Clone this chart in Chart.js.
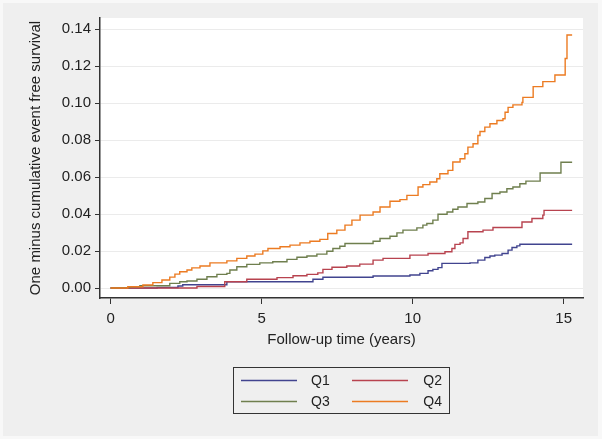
<!DOCTYPE html>
<html>
<head>
<meta charset="utf-8">
<script src="https://cdn.jsdelivr.net/npm/chart.js@4"></script>
<style>
  body { margin: 0; background: #f8f8f8; }
  #wrap { width: 602px; height: 439px; position: relative; }
</style>
</head>
<body>
<div id="wrap"><canvas id="km-chart"></canvas></div>
<script>
// Time in years, one minus event free survival
const seriesLabels = ["Q1", "Q2", "Q3", "Q4"];
const seriesColors = ["#41448f", "#b8434f", "#6f7f4e", "#ec7b22"];

const q1Time = [0, 1.54, 2.23, 2.39, 3.85, 6.70, 7.03, 8.69, 9.91, 10.24, 10.51, 10.67, 10.84, 10.97, 11.90, 12.16, 12.39, 12.56, 12.72, 12.96, 13.16, 13.29, 13.45, 13.55, 15.28];
const q1Risk = [0, 0.0003, 0.0011, 0.0018, 0.0034, 0.0047, 0.0058, 0.0065, 0.0070, 0.0079, 0.0093, 0.0101, 0.0110, 0.0133, 0.0136, 0.0151, 0.0165, 0.0173, 0.0178, 0.0187, 0.0205, 0.0219, 0.0228, 0.0237, 0.0237];

const q2Time = [0, 2.86, 3.78, 4.51, 5.51, 6.04, 6.50, 6.86, 7.03, 7.33, 7.82, 8.25, 8.69, 9.02, 9.91, 10.51, 11.07, 11.30, 11.40, 11.57, 11.67, 11.83, 12.33, 12.66, 13.62, 13.95, 14.31, 14.35, 15.28];
const q2Risk = [0, 0.0008, 0.0034, 0.0047, 0.0056, 0.0066, 0.0074, 0.0082, 0.0101, 0.0112, 0.0119, 0.0129, 0.0151, 0.0160, 0.0178, 0.0187, 0.0196, 0.0214, 0.0236, 0.0244, 0.0268, 0.0304, 0.0313, 0.0327, 0.0357, 0.0376, 0.0394, 0.0420, 0.0420];

const q3Time = [0, 0.24, 0.64, 0.97, 1.96, 2.29, 2.53, 2.86, 3.19, 3.52, 3.85, 3.95, 4.18, 4.51, 4.94, 5.37, 5.84, 6.17, 6.50, 6.83, 7.16, 7.36, 7.59, 7.76, 8.69, 8.92, 9.25, 9.48, 9.68, 10.14, 10.34, 10.47, 10.67, 10.84, 11.14, 11.33, 11.50, 11.80, 12.16, 12.39, 12.63, 12.89, 13.12, 13.32, 13.55, 13.75, 14.22, 14.91, 15.28];
const q3Risk = [0, 0.0002, 0.0007, 0.0012, 0.0025, 0.0034, 0.0038, 0.0047, 0.0061, 0.0074, 0.0079, 0.0097, 0.0115, 0.0128, 0.0136, 0.0142, 0.0155, 0.0166, 0.0173, 0.0183, 0.0199, 0.0214, 0.0226, 0.0241, 0.0253, 0.0268, 0.0280, 0.0298, 0.0313, 0.0325, 0.0340, 0.0349, 0.0367, 0.0399, 0.0411, 0.0426, 0.0438, 0.0457, 0.0465, 0.0484, 0.0511, 0.0519, 0.0537, 0.0546, 0.0564, 0.0578, 0.0622, 0.0680, 0.0680];

const q4Time = [0, 0.57, 1.07, 1.40, 1.70, 1.96, 2.13, 2.29, 2.53, 2.69, 2.96, 3.29, 3.85, 4.18, 4.51, 4.78, 5.04, 5.21, 5.61, 5.94, 6.27, 6.60, 6.93, 7.19, 7.49, 7.76, 7.99, 8.26, 8.69, 8.92, 9.25, 9.58, 9.81, 10.18, 10.34, 10.57, 10.80, 10.90, 11.17, 11.33, 11.57, 11.73, 11.83, 12.00, 12.16, 12.23, 12.39, 12.56, 12.79, 12.99, 13.06, 13.16, 13.32, 13.62, 13.65, 13.99, 14.31, 14.71, 15.05, 15.11, 15.28];
const q4Risk = [0, 0.0007, 0.0016, 0.0029, 0.0043, 0.0059, 0.0075, 0.0088, 0.0097, 0.0109, 0.0119, 0.0136, 0.0147, 0.0160, 0.0173, 0.0183, 0.0201, 0.0214, 0.0223, 0.0232, 0.0244, 0.0253, 0.0263, 0.0295, 0.0313, 0.0340, 0.0367, 0.0394, 0.0411, 0.0438, 0.0469, 0.0478, 0.0501, 0.0546, 0.0559, 0.0573, 0.0591, 0.0618, 0.0636, 0.0681, 0.0699, 0.0726, 0.0762, 0.0780, 0.0825, 0.0846, 0.0870, 0.0888, 0.0906, 0.0915, 0.0950, 0.0977, 0.0990, 0.1004, 0.1031, 0.1089, 0.1116, 0.1152, 0.1241, 0.1368, 0.1368];

const xTicks = [0, 5, 10, 15];
const yTicks = [0, 0.02, 0.04, 0.06, 0.08, 0.10, 0.12, 0.14];

const allTimes = [q1Time, q2Time, q3Time, q4Time];
const allRisks = [q1Risk, q2Risk, q3Risk, q4Risk];

const textColor = "#222";
const fontFamily = "Arial, 'Liberation Sans', sans-serif";

// gray page, white plot region
const backgroundPlugin = {
  id: "bg",
  beforeDraw(chart) {
    const { ctx, chartArea } = chart;
    ctx.save();
    ctx.fillStyle = "#f8f8f8";
    ctx.fillRect(0, 0, chart.width, chart.height);
    ctx.fillStyle = "#efefef";
    ctx.fillRect(3, 3, chart.width - 7, chart.height - 6);
    ctx.fillStyle = "#ffffff";
    ctx.fillRect(chartArea.left, chartArea.top, chartArea.right - chartArea.left, chartArea.bottom - chartArea.top);
    ctx.restore();
  }
};

// boxed 2x2 legend under the axis
const boxLegendPlugin = {
  id: "boxLegend",
  afterDraw(chart) {
    const ctx = chart.ctx;
    const left = 233.5, top = 367.5, w = 216, h = 46;
    ctx.save();
    ctx.strokeStyle = "#333";
    ctx.lineWidth = 1;
    ctx.strokeRect(left, top, w, h);
    ctx.font = "14px " + fontFamily;
    ctx.fillStyle = textColor;
    ctx.textBaseline = "middle";
    chart.data.datasets.forEach((ds, i) => {
      const col = i % 2;
      const row = Math.floor(i / 2);
      const y = top + 13 + row * 21;
      const x0 = col === 0 ? 241 : 352;
      ctx.strokeStyle = ds.borderColor;
      ctx.lineWidth = 1.4;
      ctx.beginPath();
      ctx.moveTo(x0, y);
      ctx.lineTo(x0 + 56, y);
      ctx.stroke();
      if (col === 0) {
        ctx.textAlign = "left";
        ctx.fillText(ds.label, 311, y + 1);
      } else {
        ctx.textAlign = "right";
        ctx.fillText(ds.label, 442, y + 1);
      }
    });
    ctx.restore();
  }
};

const datasets = seriesLabels.map((label, i) => ({
  label: label,
  data: allTimes[i].map((t, k) => ({ x: t, y: allRisks[i][k] })),
  borderColor: seriesColors[i],
  backgroundColor: seriesColors[i],
  borderWidth: 1.4,
  stepped: true,
  pointRadius: 0,
  fill: false,
  order: seriesLabels.length - i
}));

new Chart(document.getElementById("km-chart"), {
  type: "line",
  data: { datasets: datasets },
  options: {
    responsive: true,
    maintainAspectRatio: false,
    animation: false,
    layout: { padding: { left: 0, top: 18, right: 19, bottom: 81 } },
    plugins: {
      legend: { display: false },
      tooltip: { enabled: false }
    },
    scales: {
      x: {
        type: "linear",
        min: -0.35,
        max: 15.64,
        afterBuildTicks: axis => { axis.ticks = xTicks.map(v => ({ value: v })); },
        afterFit: axis => { axis.height = 60; },
        grid: { display: true, drawOnChartArea: false, tickLength: 6, tickColor: "#333" },
        border: { display: true, color: "#333", width: 1.5 },
        ticks: { color: textColor, font: { size: 15, family: fontFamily }, padding: 6, maxRotation: 0 },
        title: {
          display: true,
          text: "Follow-up time (years)",
          color: textColor,
          font: { size: 15, family: fontFamily },
          padding: { top: 0, bottom: 9 }
        }
      },
      y: {
        type: "linear",
        min: -0.0054,
        max: 0.146,
        afterBuildTicks: axis => { axis.ticks = yTicks.map(v => ({ value: v })); },
        afterFit: axis => { axis.width = 100; },
        grid: { color: "#ebebeb", lineWidth: 1, tickLength: 5, tickColor: "#333" },
        border: { display: true, color: "#333", width: 1.5 },
        ticks: {
          color: textColor,
          font: { size: 15, family: fontFamily },
          padding: 4,
          callback: v => v.toFixed(2)
        },
        title: {
          display: true,
          text: "One minus cumulative event free survival",
          color: textColor,
          font: { size: 15, family: fontFamily },
          padding: { top: 27, bottom: 0 }
        }
      }
    }
  },
  plugins: [backgroundPlugin, boxLegendPlugin]
});
</script>
</body>
</html>
